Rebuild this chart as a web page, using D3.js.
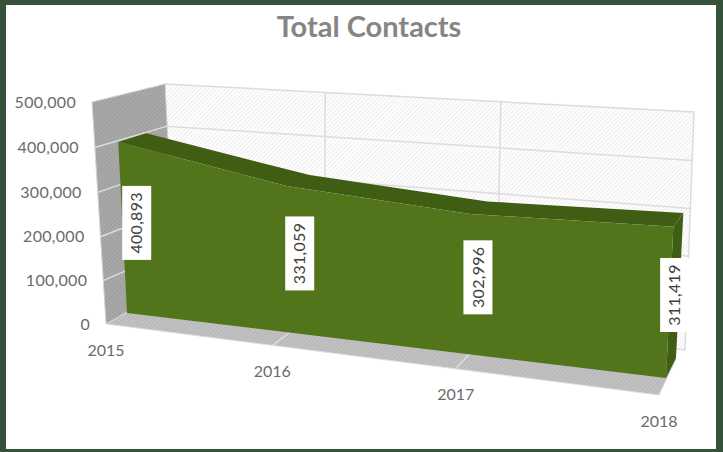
<!DOCTYPE html>
<html>
<head>
<meta charset="utf-8">
<script src="https://cdn.jsdelivr.net/npm/d3@7"></script>
<style>
  html, body { margin: 0; padding: 0; background: #fff; }
  svg { display: block; }
  text { font-family: Lato, "Open Sans", sans-serif; }
</style>
</head>
<body>
<div id="chartContainer"></div>
<script>
const years = ["2015", "2016", "2017", "2018"];
const contacts = [400893, 331059, 302996, 311419];
const valueTicks = [0, 100000, 200000, 300000, 400000, 500000];
const chartTitle = "Total Contacts";

const ctx = {
    W: 723,
    H: 452,
    border: "#36523a",
    front: "#52751b",
    dark: "#3f5e13",
    gridColor: "#dcdcdc",
    tickColor: "#6b6b6b"
};

// 3D box corners on screen, each plane is [bottom-left, bottom-right, top-right, top-left]
const planes = {
    backWall: [[167, 292], [685, 350], [694, 112], [165, 84]],
    leftWall: [[106, 324], [176, 290], [165, 84], [92, 102]],
    floor: [[106, 324], [659, 395], [676, 359], [154, 297]],
    areaFront: [[127, 313], [666, 378], [678, 131], [116, 98]],
    areaBack: [[155, 298], [676, 358], [688, 121], [144, 91]]
};

// maps the unit square on a quad, keeps perspective spacing
function quadMap(q) {
    const [p0, p1, p2, p3] = q;
    const dx1 = p1[0] - p2[0], dx2 = p3[0] - p2[0], sx = p0[0] - p1[0] + p2[0] - p3[0];
    const dy1 = p1[1] - p2[1], dy2 = p3[1] - p2[1], sy = p0[1] - p1[1] + p2[1] - p3[1];
    const den = dx1 * dy2 - dx2 * dy1;
    const g = (sx * dy2 - dx2 * sy) / den;
    const h = (dx1 * sy - sx * dy1) / den;
    const a = p1[0] - p0[0] + g * p1[0], b = p3[0] - p0[0] + h * p3[0];
    const d = p1[1] - p0[1] + g * p1[1], e = p3[1] - p0[1] + h * p3[1];
    return (u, v) => {
        const w = g * u + h * v + 1;
        return [(a * u + b * v + p0[0]) / w, (d * u + e * v + p0[1]) / w];
    };
}

const xScale = d3.scalePoint().domain(years).range([0, 1]);
const yScale = d3.scaleLinear().domain([0, 500000]).range([0, 1]);

const backWall = quadMap(planes.backWall);
const leftWall = quadMap(planes.leftWall);
const floorMap = quadMap(planes.floor);
const areaFront = quadMap(planes.areaFront);
const areaBack = quadMap(planes.areaBack);

const line = d3.line();
const svg = d3.select("#chartContainer").append("svg")
    .attr("width", ctx.W)
    .attr("height", ctx.H);

function addHatch(id, base, stroke) {
    const p = svg.append("defs").append("pattern")
        .attr("id", id)
        .attr("width", 3)
        .attr("height", 3)
        .attr("patternUnits", "userSpaceOnUse")
        .attr("patternTransform", "rotate(-45)");
    p.append("rect").attr("width", 3).attr("height", 3).attr("fill", base);
    p.append("rect").attr("width", 3).attr("height", 1).attr("fill", stroke);
}
addHatch("hatchBack", "#ffffff", "#ececec");
addHatch("hatchLeft", "#a9a9a9", "#9c9c9c");
addHatch("hatchFloor", "#c2c2c2", "#b5b5b5");

// frame
svg.append("rect").attr("width", ctx.W).attr("height", ctx.H).attr("fill", ctx.border);
svg.append("rect").attr("x", 6).attr("y", 5).attr("width", 710).attr("height", 444).attr("fill", "#fff");

svg.append("text")
    .attr("x", 369)
    .attr("y", 37)
    .attr("text-anchor", "middle")
    .attr("font-size", 29)
    .attr("font-weight", 700)
    .attr("fill", "#858585")
    .text(chartTitle);

// walls and floor
svg.append("path").attr("d", line(planes.backWall) + "Z").attr("fill", "url(#hatchBack)")
    .attr("stroke", ctx.gridColor).attr("stroke-width", 1.5);
svg.append("path").attr("d", line(planes.leftWall) + "Z").attr("fill", "url(#hatchLeft)")
    .attr("stroke", "#d4d4d4").attr("stroke-width", 1);
svg.append("path").attr("d", line(planes.floor) + "Z").attr("fill", "url(#hatchFloor)")
    .attr("stroke", "#dedede").attr("stroke-width", 1);

// gridlines
const grid = svg.append("g").attr("fill", "none").attr("stroke", ctx.gridColor).attr("stroke-width", 1.5);
valueTicks.slice(1, -1).forEach(t => {
    grid.append("path").attr("d", line([backWall(0, yScale(t)), backWall(1, yScale(t))]));
    grid.append("path").attr("d", line([leftWall(0, yScale(t)), leftWall(1, yScale(t))]));
});
years.slice(1, -1).forEach(y => {
    grid.append("path").attr("d", line([backWall(xScale(y), 0), backWall(xScale(y), 1)]));
    grid.append("path").attr("d", line([floorMap(xScale(y), 0), floorMap(xScale(y), 1)]));
});

// area: side, top, then front
const topFront = years.map((y, i) => areaFront(xScale(y), yScale(contacts[i])));
const topBack = years.map((y, i) => areaBack(xScale(y), yScale(contacts[i])));
const last = years.length - 1;

svg.append("path")
    .attr("d", line([topFront[last], topBack[last], areaBack(1, 0), areaFront(1, 0)]) + "Z")
    .attr("fill", ctx.dark);
svg.append("path")
    .attr("d", line(topFront.concat(topBack.slice().reverse())) + "Z")
    .attr("fill", ctx.dark);
svg.append("path")
    .attr("d", line([areaFront(0, 0)].concat(topFront, [areaFront(1, 0)])) + "Z")
    .attr("fill", ctx.front);

// value axis labels follow the outer edge of the left wall
svg.append("g").selectAll("text")
    .data(valueTicks)
    .enter()
    .append("text")
    .attr("x", d => leftWall(0, yScale(d))[0] - 16)
    .attr("y", d => leftWall(0, yScale(d))[1])
    .attr("dy", "0.35em")
    .attr("text-anchor", "end")
    .attr("font-size", 16)
    .attr("letter-spacing", 0.3)
    .attr("fill", ctx.tickColor)
    .text(d3.format(","));

// category labels under the floor edge
svg.append("g").selectAll("text")
    .data(years)
    .enter()
    .append("text")
    .attr("x", d => floorMap(xScale(d), 0)[0])
    .attr("y", d => floorMap(xScale(d), 0)[1] + 26)
    .attr("dy", "0.35em")
    .attr("text-anchor", "middle")
    .attr("font-size", 16)
    .attr("fill", ctx.tickColor)
    .text(d => d);

// data labels sit half way up, half way through the depth
const dataLabels = svg.append("g").selectAll("g")
    .data(years)
    .enter()
    .append("g")
    .attr("transform", (d, i) => {
        const f = areaFront(xScale(d), yScale(contacts[i] / 2));
        const b = areaBack(xScale(d), yScale(contacts[i] / 2));
        return `translate(${(f[0] + b[0]) / 2},${(f[1] + b[1]) / 2})`;
    });

dataLabels.append("rect")
    .attr("x", -14.5)
    .attr("y", -37)
    .attr("width", 29)
    .attr("height", 74)
    .attr("fill", "#fff");

dataLabels.append("text")
    .attr("transform", "rotate(-90)")
    .attr("dy", "0.35em")
    .attr("text-anchor", "middle")
    .attr("font-size", 16)
    .attr("letter-spacing", 0.3)
    .attr("fill", "#404040")
    .text((d, i) => d3.format(",")(contacts[i]));
</script>
</body>
</html>
